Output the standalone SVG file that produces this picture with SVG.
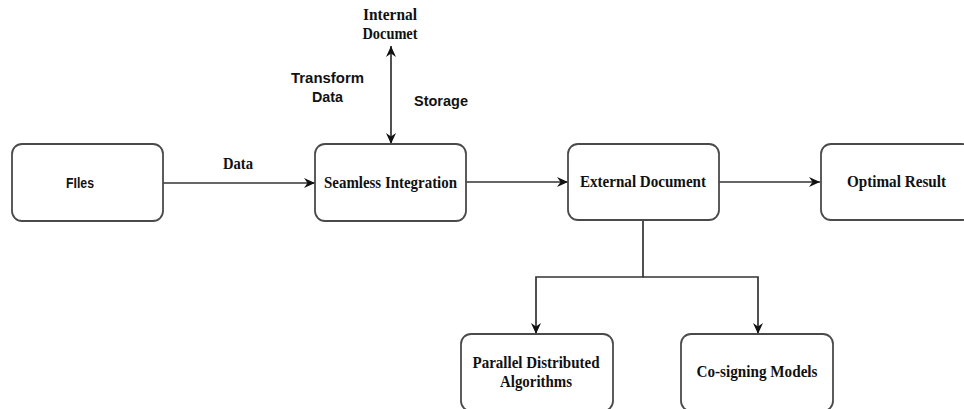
<svg xmlns="http://www.w3.org/2000/svg" width="964" height="409" viewBox="0 0 964 409">
<style>
.box{fill:#fff;stroke:#4a4a4a;stroke-width:1.8}
.lbl{font-family:"Liberation Serif","Times New Roman",serif;font-weight:bold;font-size:16px;fill:#111;text-anchor:middle}
.sans{font-family:"Liberation Sans",Arial,sans-serif;font-weight:bold;font-size:15px;fill:#111;text-anchor:middle}
.con{fill:none;stroke:#333;stroke-width:1.7}
</style>
<defs>
<marker id="arr" markerUnits="userSpaceOnUse" markerWidth="13" markerHeight="11" refX="11" refY="5" orient="auto-start-reverse" viewBox="0 0 13 11">
<path d="M0,0 L11,5 L0,10 L3.5,5 z" fill="#111"/>
</marker>
</defs>
<rect width="964" height="409" fill="#fff"/>
<g id="connectors">
<path class="con" d="M163,183 L315,183" marker-end="url(#arr)"/>
<path class="con" d="M466,182 L568,182" marker-end="url(#arr)"/>
<path class="con" d="M719,182 L820,182" marker-end="url(#arr)"/>
<path class="con" d="M391,46 L391,144" marker-start="url(#arr)" marker-end="url(#arr)"/>
<path class="con" d="M643,220 V277 H536 V334" marker-end="url(#arr)"/>
<path class="con" d="M643,277 H758 V334" marker-end="url(#arr)"/>
<text class="lbl" x="238" y="169" textLength="30" lengthAdjust="spacingAndGlyphs">Data</text>
<text class="lbl" x="390" y="20" textLength="54" lengthAdjust="spacingAndGlyphs">Internal</text>
<text class="lbl" x="390" y="39" textLength="55" lengthAdjust="spacingAndGlyphs">Documet</text>
<text class="sans" x="327.5" y="83" textLength="73" lengthAdjust="spacingAndGlyphs">Transform</text>
<text class="sans" x="327.5" y="102" textLength="31" lengthAdjust="spacingAndGlyphs">Data</text>
<text class="sans" x="441" y="106" textLength="54" lengthAdjust="spacingAndGlyphs">Storage</text>
</g>
<g id="files">
<rect class="box" x="12" y="144" width="151" height="77" rx="10"/>
<text class="sans" x="80" y="188" textLength="28" lengthAdjust="spacingAndGlyphs">FIles</text>
</g>
<g id="seamless">
<rect class="box" x="315" y="144" width="151" height="77" rx="10"/>
<text class="lbl" x="390.5" y="188" textLength="133" lengthAdjust="spacingAndGlyphs">Seamless Integration</text>
</g>
<g id="external">
<rect class="box" x="568" y="144" width="151" height="76" rx="10"/>
<text class="lbl" x="643" y="187" textLength="126" lengthAdjust="spacingAndGlyphs">External Document</text>
</g>
<g id="optimal">
<rect class="box" x="821" y="144" width="151" height="76" rx="10"/>
<text class="lbl" x="896.5" y="187" textLength="99" lengthAdjust="spacingAndGlyphs">Optimal Result</text>
</g>
<g id="parallel">
<rect class="box" x="461" y="334" width="152" height="77" rx="10"/>
<text class="lbl" x="536" y="368" textLength="127" lengthAdjust="spacingAndGlyphs">Parallel Distributed</text>
<text class="lbl" x="536" y="387" textLength="72" lengthAdjust="spacingAndGlyphs">Algorithms</text>
</g>
<g id="cosigning">
<rect class="box" x="681" y="334" width="152" height="77" rx="10"/>
<text class="lbl" x="757" y="377" textLength="121" lengthAdjust="spacingAndGlyphs">Co-signing Models</text>
</g>
</svg>
